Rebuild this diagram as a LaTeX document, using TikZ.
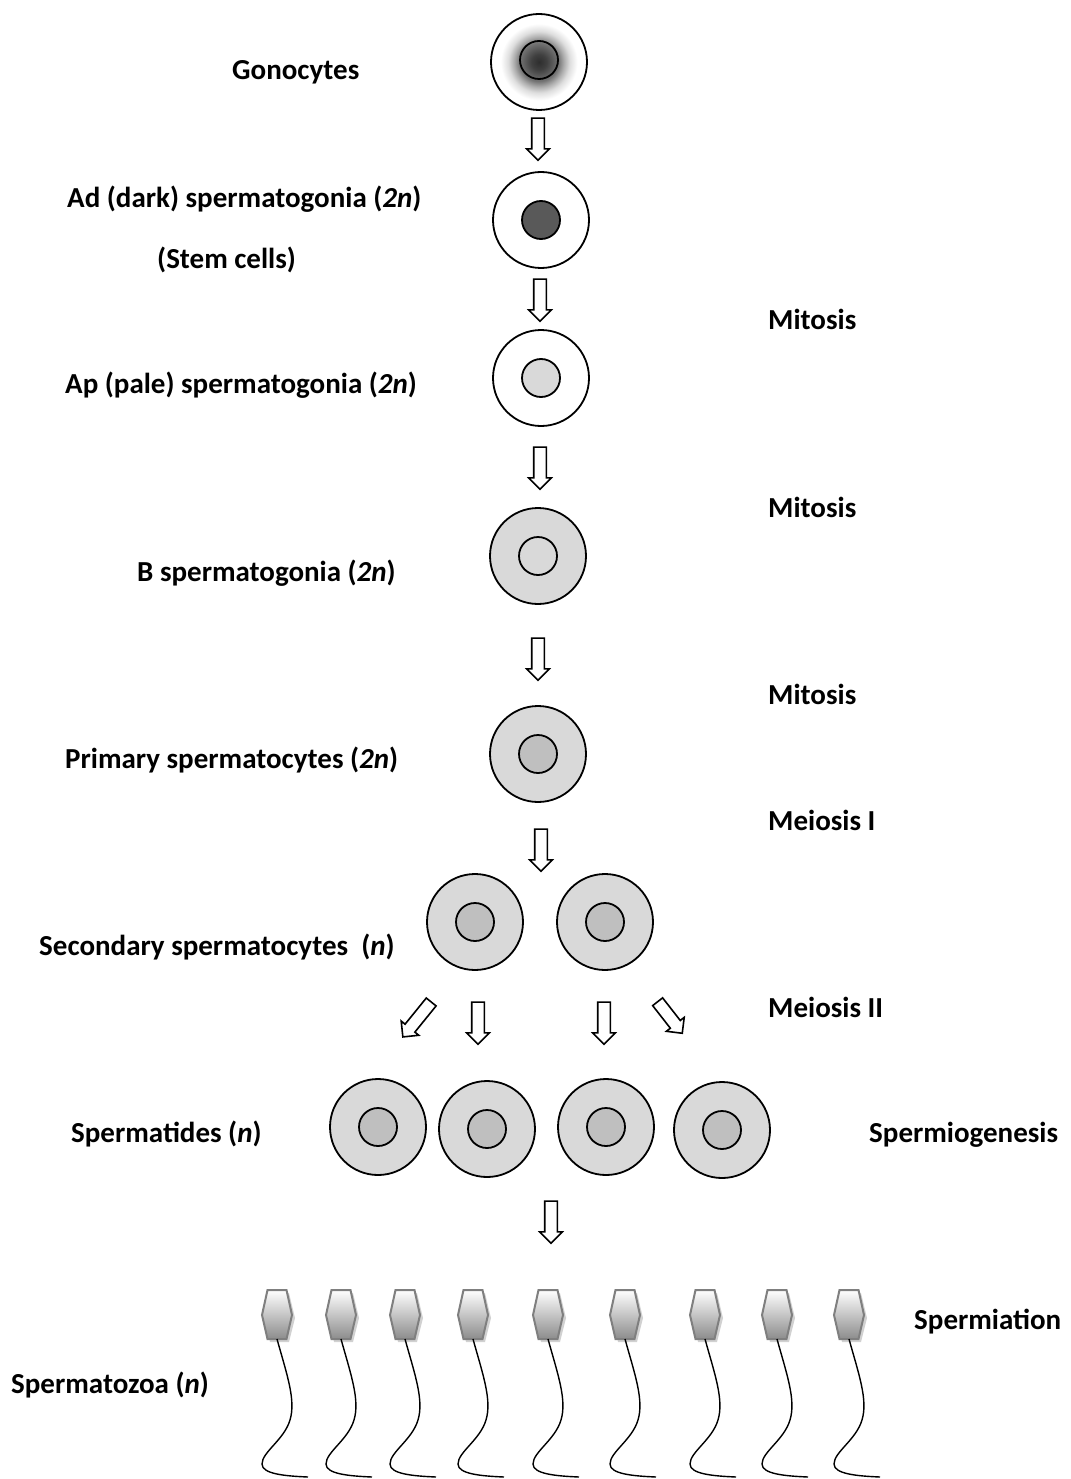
\documentclass[tikz,border=0pt]{standalone}
\usepackage{fontspec}
\setmainfont{Carlito}
\usetikzlibrary{shapes.arrows}

\definecolor{cellgray}{HTML}{D9D9D9}
\definecolor{nucgray}{HTML}{BFBFBF}
\definecolor{darknuc}{HTML}{595959}
\definecolor{headline}{HTML}{7F7F7F}

% radial halo of the gonocyte: dark core fading to white (25bp = cell rim)
\pgfdeclareradialshading{gonohalo}{\pgfpoint{0bp}{0bp}}{%
  color(0bp)=(black!82); color(4bp)=(black!75); color(10bp)=(black!55);
  color(13bp)=(black!32); color(16bp)=(black!13); color(20bp)=(white); color(50bp)=(white)}

\begin{document}
\begin{tikzpicture}[x=1pt, y=-1pt,
  lbl/.style={anchor=base west, inner sep=0pt, font=\fontsize{29}{34}\selectfont\bfseries},
  cellw/.style={circle, draw, line width=1.8pt, minimum size=96pt, inner sep=0pt, fill=white},
  cellg/.style={cellw, fill=cellgray},
  nuc/.style={circle, draw, line width=1.8pt, minimum size=38pt, inner sep=0pt},
  blockarrow/.style={single arrow, draw, line width=1.6pt, fill=white,
    inner xsep=0pt, inner ysep=5.5pt, single arrow head extend=5pt,
    single arrow head indent=0pt, minimum height=#1},
  blockarrow/.default=42pt,
  headshape/.style={line width=2pt, draw=headline, top color=white, bottom color=black!45},
  headshadow/.style={fill=black!18},
  tail/.style={line width=1.4pt, black}
]
\useasboundingbox (0,0) rectangle (1070,1479);

% ---------- cells ----------
\node[cellw, shade, shading=gonohalo] (gono) at (539,62) {};
\node[nuc] (gonoN) at (539,60) {};

\node[cellw] (ad) at (541,220) {};
\node[nuc, fill=darknuc] (adN) at (541,220) {};

\node[cellw] (ap) at (541,378) {};
\node[nuc, fill=cellgray] (apN) at (541,378) {};

\node[cellg] (bsg) at (538,556) {};
\node[nuc, fill=cellgray] (bsgN) at (538,556) {};

\node[cellg] (prim) at (538,754) {};
\node[nuc, fill=nucgray] (primN) at (538,754) {};

\node[cellg] (secA) at (475,922) {};
\node[nuc, fill=nucgray] (secAN) at (475,922) {};
\node[cellg] (secB) at (605,922) {};
\node[nuc, fill=nucgray] (secBN) at (605,922) {};

\foreach \n/\cx/\cy in {1/378/1127, 2/487/1129, 3/606/1127, 4/722/1130}{
  \node[cellg] (spt\n) at (\cx,\cy) {};
  \node[nuc, fill=nucgray] (spt\n N) at (\cx,\cy) {};
}

% ---------- block arrows ----------
\node[blockarrow, rotate=-90] (a1) at (538,136) {};
\node[blockarrow, rotate=-90] (a2) at (540,297) {};
\node[blockarrow, rotate=-90] (a3) at (540,465) {};
\node[blockarrow, rotate=-90] (a4) at (538,656) {};
\node[blockarrow, rotate=-90] (a5) at (541,847) {};
\node[blockarrow=45pt, rotate=231] (m1) at (419,1017) {};
\node[blockarrow, rotate=-90] (m2) at (478,1020) {};
\node[blockarrow, rotate=-90] (m3) at (604,1020) {};
\node[blockarrow=40pt, rotate=-52] (m4) at (668,1015) {};
\node[blockarrow, rotate=-90] (a6) at (551,1219) {};

% ---------- spermatozoa ----------
\foreach \cx [count=\k] in {277,341,405,473,548,625,705,777,849}{
  \fill[headshadow] ({\cx-7},1293) -- ({\cx+12},1293) -- ({\cx+18},1318) -- ({\cx+12},1342)
        -- ({\cx-7},1342) -- ({\cx-12},1318) -- cycle;
  \path[headshape] ({\cx-9.5},1290) -- ({\cx+9.5},1290) -- ({\cx+15},1315) -- ({\cx+9.5},1339)
        -- ({\cx-9.5},1339) -- ({\cx-15},1315) -- cycle;
  \coordinate (neck\k) at (\cx,1339);
  \coordinate (tip\k) at ({\cx+31},1477);
  \draw[tail] (neck\k) .. controls ({\cx+10},1375) and ({\cx+19},1400) .. ({\cx+13},1420)
        .. controls ({\cx+7},1440) and ({\cx-15},1452) .. ({\cx-15},1464)
        .. controls ({\cx-15},1474) and ({\cx+8},1476) .. (tip\k);
}

% ---------- labels ----------
\node[lbl] (tGono) at (232,80) {Gonocytes};
\node[lbl] (tAd) at (67,208) {Ad (dark) spermatogonia (\textit{2n})};
\node[lbl] (tStem) at (157,268) {(Stem cells)};
\node[lbl] (tAp) at (65,393) {Ap (pale) spermatogonia (\textit{2n})};
\node[lbl] (tB) at (137,581) {B spermatogonia (\textit{2n})};
\node[lbl] (tPrim) at (65,768) {Primary spermatocytes (\textit{2n})};
\node[lbl] (tSec) at (39,955) {Secondary spermatocytes\ \ (\textit{n})};
\node[lbl] (tSpt) at (71,1142) {Spermatides (\textit{n})};
\node[lbl] (tSpz) at (11,1393) {Spermatozoa (\textit{n})};

\node[lbl] (tMit1) at (768,329) {Mitosis};
\node[lbl] (tMit2) at (768,517) {Mitosis};
\node[lbl] (tMit3) at (768,704) {Mitosis};
\node[lbl] (tMe1) at (768,830) {Meiosis I};
\node[lbl] (tMe2) at (768,1017) {Meiosis II};
\node[lbl] (tSpg) at (869,1142) {Spermiogenesis};
\node[lbl] (tSpm) at (914,1329) {Spermiation};
\end{tikzpicture}
\end{document}
